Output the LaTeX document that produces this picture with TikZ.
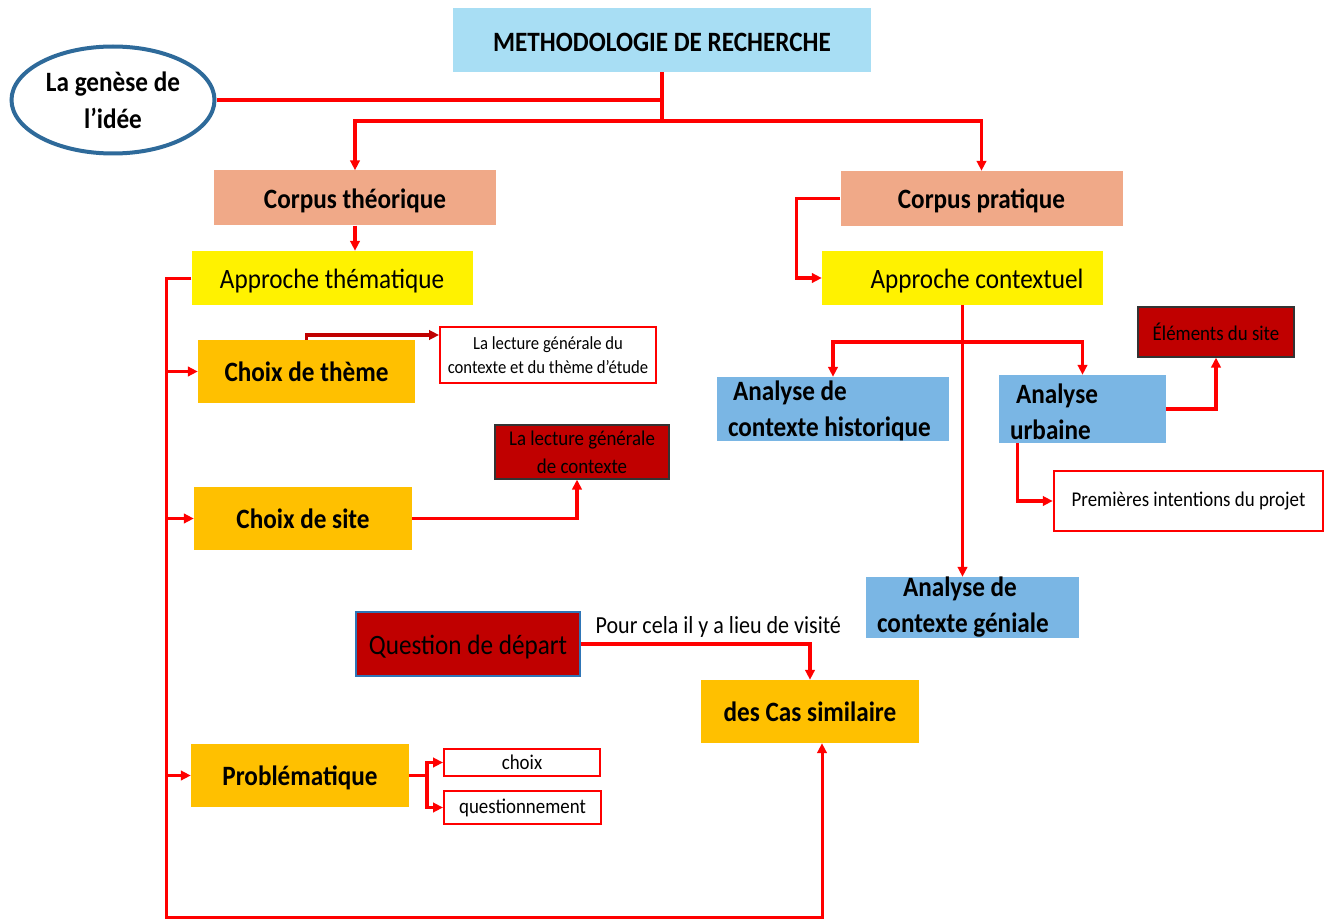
\documentclass[tikz,border=0pt]{standalone}
\usepackage{fontspec}
\setmainfont[FakeStretch=0.9]{Carlito}
\usepackage{tikz}
\usetikzlibrary{calc,arrows.meta,shapes.geometric}

\definecolor{skyblue}{RGB}{168,222,244}
\definecolor{salmon}{RGB}{240,169,136}
\definecolor{gold}{RGB}{255,192,0}
\definecolor{steel}{RGB}{122,182,228}
\definecolor{darkred}{RGB}{192,0,0}
\definecolor{ovalblue}{RGB}{46,106,154}
\definecolor{qborder}{RGB}{46,117,182}

\newcommand{\fsz}[2]{\fontsize{#1}{#2}\selectfont}

\tikzset{
	box/.style={rectangle, inner sep=0pt, align=center},
	lowtext/.style={text height=26pt, text depth=6pt},
	corpus/.style={box, lowtext, fill=salmon, minimum width=282pt, minimum height=55pt, font=\bfseries\fsz{28}{34}},
	approche/.style={box, lowtext, fill=yellow, minimum width=281pt, minimum height=54pt, font=\fsz{28}{34}},
	choixbox/.style={box, lowtext, fill=gold, minimum width=218pt, minimum height=63pt, font=\bfseries\fsz{28}{34}},
	analyse/.style={box, text height=23pt, fill=steel, align=flush left, font=\bfseries\fsz{28}{36}},
	note/.style={box, fill=white, draw=red, line width=2pt},
	darkbox/.style={box, fill=darkred, draw=black!80, line width=1.2pt},
	wire/.style={red, line width=3.5pt},
	link/.style={red, line width=3.5pt, -{Triangle[length=10pt, width=9.5pt]}},
}

\begin{document}
\begin{tikzpicture}[x=1pt, y=-1pt]
		%%%%% START %%%%%
		\useasboundingbox (0, 0) rectangle (1333, 920);
		
		\node[box, fill=skyblue, minimum width=418pt, minimum height=64pt, text height=28pt, text depth=4pt, font=\bfseries\fsz{28}{34}] (meth) at (662, 40) {METHODOLOGIE DE RECHERCHE};
		\node[ellipse, draw=ovalblue, line width=4pt, minimum width=203pt, minimum height=107pt, inner sep=0pt, align=center, font=\bfseries\fsz{28}{37}] (idee) at (113, 100) {La genèse de\\l’idée};
		
		\node[corpus] (cth) at (355, 198) {Corpus théorique};
		\node[corpus] (cpr) at (981.5, 198.5) {Corpus pratique};
		\node[approche] (ath) at (332, 278) {Approche thématique};
		\node[approche] (acx) at (962.5, 278) {\hspace*{29pt}Approche contextuel};
		
		% left side
		\node[choixbox, minimum width=217pt] (ctheme) at (306.5, 371.5) {Choix de thème};
		\node[note, minimum width=216pt, minimum height=56pt, font=\fsz{18.5}{24}] (lect1) at (548, 355) {La lecture générale du\\contexte et du thème d’étude};
		\node[choixbox] (csite) at (303, 518.5) {Choix de site};
		\node[darkbox, minimum width=174pt, minimum height=54pt, font=\fsz{21}{28}] (lect2) at (582, 452) {La lecture générale\\de contexte};
		\node[box, lowtext, fill=darkred, draw=qborder, line width=1.5pt, minimum width=224pt, minimum height=64pt, font=\fsz{28}{34}] (qdep) at (468, 644) {Question de départ};
		\node[choixbox] (cas) at (810, 711.5) {des Cas similaire};
		\node[choixbox] (prob) at (300, 775.5) {Problématique};
		\node[note, minimum width=156pt, minimum height=27pt, font=\fsz{21}{24}] (choix) at (522, 762.5) {choix};
		\node[note, minimum width=157pt, minimum height=33pt, font=\fsz{21}{24}] (quest) at (522.5, 807.5) {questionnement};
		
		% right side
		\node[analyse, minimum width=232pt, minimum height=64pt, text width=210pt] (ahist) at (833, 409) {\hspace*{5pt}Analyse de\\contexte historique};
		\node[analyse, text height=26pt, minimum width=167pt, minimum height=68pt, text width=145pt] (aurb) at (1082.5, 409) {\hspace*{6pt}Analyse\\urbaine};
		\node[darkbox, minimum width=156pt, minimum height=50pt, font=\fsz{21}{24}] (elem) at (1216, 332) {Éléments du site};
		\node[note, line width=2.5pt, minimum width=269pt, minimum height=60pt, font=\fsz{21}{24}] (prem) at (1188.5, 501) {Premières intentions du projet};
		\node[analyse, text height=19pt, minimum width=213pt, minimum height=61pt, text width=191pt] (agen) at (972.5, 607.5) {\hspace*{26pt}Analyse de\\contexte géniale};
		
		% connectors
		\draw[wire] (idee.east) -- (idee.east -| meth.south);
		\coordinate (split) at ($(meth.south)+(0, 49)$);
		\draw[wire] (meth.south) -- (split);
		\draw[link] (split) -| (cth.north);
		\draw[link] (split) -| (cpr.north);
		\draw[link] (cth.south) -- (cth.south |- ath.north);
		\draw[link] (cpr.west) -- ++(-44, 0) |- (acx.west);
		
		\coordinate (trunk) at (166, 917);
		\draw[link, line width=3pt] (ath.west) -| (trunk) -| ([xshift=12pt]cas.south);
		\foreach \n in {ctheme, csite, prob}
			\draw[link] (trunk |- \n.west) -- (\n.west);
		
		\draw[link, darkred] (ctheme.north) |- ([yshift=20pt]lect1.west);
		\draw[link] (csite.east) -| ([xshift=-5pt]lect2.south);
		\draw[wire] (prob.east) -- ++(18, 0) coordinate (fork);
		\draw[link] (fork) |- (choix.west);
		\draw[link] (fork) |- (quest.west);
		\draw[link] (qdep.east) -| node[pos=0.3, anchor=base, yshift=11pt, text=black, font=\fsz{24.5}{28}] (visite) {Pour cela il y a lieu de visité} (cas.north);
		
		\draw[link] (acx.south) -- (acx.south |- agen.north);
		\coordinate (split2) at ($(acx.south)+(0, 37)$);
		\draw[link] (split2) -| (ahist.north);
		\draw[link] (split2) -| (aurb.north);
		\draw[link] (aurb.east) -| (elem.south);
		\draw[link] ([xshift=-65pt]aurb.south) |- (prem.west);
		
		%%%%% END %%%%%
	\end{tikzpicture}
\end{document}
